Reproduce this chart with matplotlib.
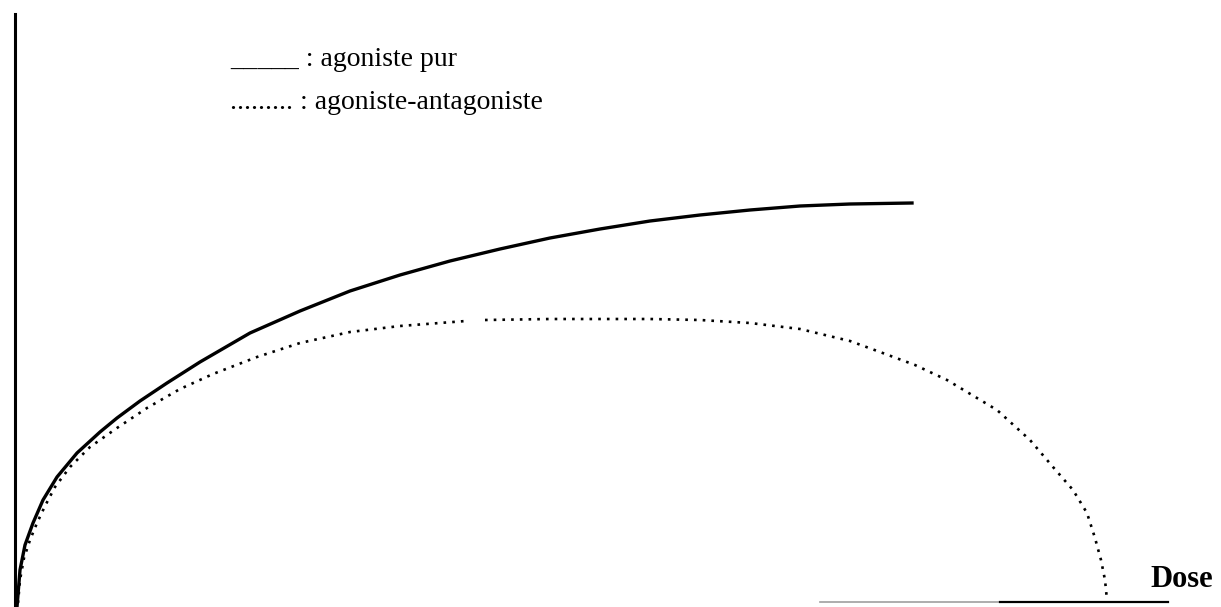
import numpy as np
import matplotlib
matplotlib.use("Agg")
import matplotlib.pyplot as plt

plt.rcParams['font.family'] = ['Liberation Serif', 'DejaVu Serif']

# pure agonist curve (dose, effect)
dose_pur = [2, 5, 10, 18, 28, 42, 62, 85, 102, 125, 152, 185, 235, 285, 335, 385,
            435, 485, 535, 585, 635, 685, 735, 785, 835, 897]
effet_pur = [-4, 33, 58, 80, 103, 126, 150, 171, 185, 202, 220, 241, 270, 292, 312, 328,
             342, 354, 365, 374, 382, 388, 393, 397, 399, 400]

# agonist-antagonist curve (there is a small gap in the original near the top)
dose_mixte = [3, 5, 9, 15, 22, 30, 40, 55, 75, 102, 132, 165, 198, 242, 285, 335, 385,
              451, np.nan, 470, 535, 585, 635, 685, 735, 785, 835, 865, 900, 932, 982,
              1015, 1038, 1058, 1072, 1080, 1086, 1090, 1092]
effet_mixte = [0, 23, 45, 63, 80, 97, 116, 136, 156, 175, 195, 214, 229, 246, 260, 271, 277,
               282, np.nan, 283, 284, 284, 284, 283, 280, 274, 262, 251, 238, 223, 193,
               163, 136, 113, 90, 65, 43, 23, 3]

legende = ["_____ : agoniste pur", "......... : agoniste-antagoniste"]
label_x = "Dose"

fig = plt.figure(figsize=(12.21, 6.07), dpi=100)
ax = fig.add_axes([0, 0, 1, 1])
ax.set_xlim(-15, 1206)
ax.set_ylim(-4, 603)
ax.axis('off')

# axes drawn by hand, like the scanned sketch
ax.plot([0, 0], [-4, 589], color='black', lw=2.2)
ax.plot([805, 985], [1, 1], color='#a0a0a0', lw=1.2)
ax.plot([985, 1153], [1, 1], color='black', lw=1.6)

ax.plot(dose_pur, effet_pur, color='black', lw=2.4, solid_joinstyle='round')
ax.plot(dose_mixte, effet_mixte, color='black', lw=1.9, linestyle=(0, (1, 2.3)))

ax.text(215, 537, legende[0], fontsize=20, va='baseline', ha='left')
ax.text(215, 494, legende[1], fontsize=20, va='baseline', ha='left')
ax.text(1135, 16, label_x, fontsize=22, fontweight='bold', va='baseline', ha='left')

fig.savefig("out.png", dpi=100)
